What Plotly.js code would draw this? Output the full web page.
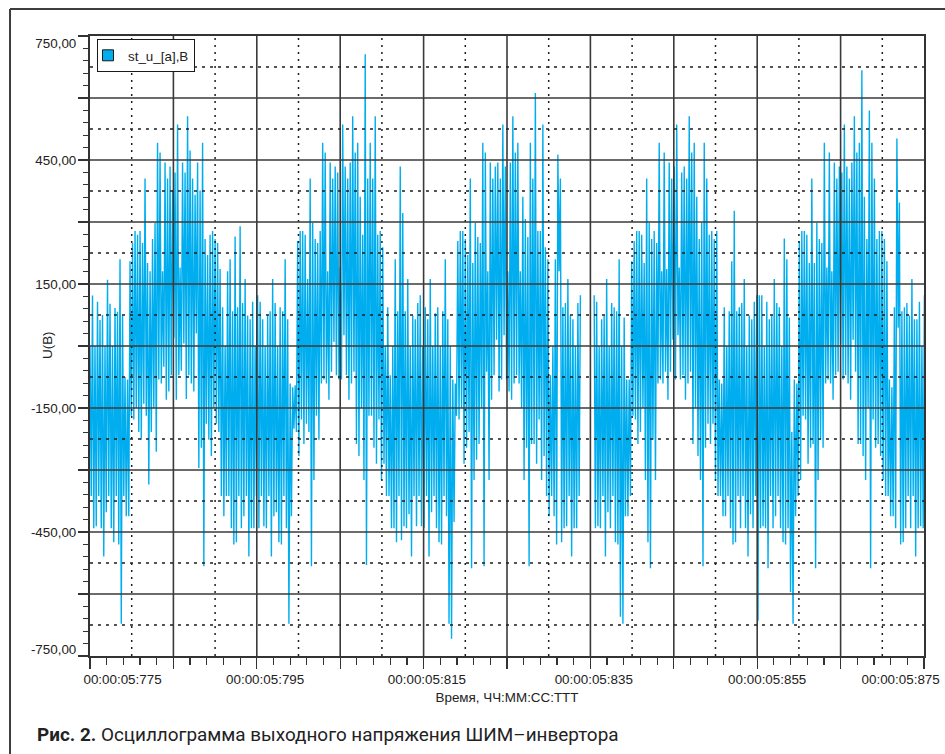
<!DOCTYPE html>
<html><head><meta charset="utf-8">
<script src="https://cdn.plot.ly/plotly-3.0.1.min.js"></script>
<style>html,body{margin:0;padding:0;background:#fff}#chart{width:945px;height:754px}</style>
</head><body><div id="chart"></div>
<script>
// time base (ms) and sample step
const t0 = 5775;
const dt = 0.15;
// PWM output voltage samples, per half-cycle
const segA = [0,-363,122,-441,0,-436,107,-363,63,-441,75,-509,0,-402,160,-363,102,-441,0,-475,92,-363,83,-480,210,-672,74,-363,-75,-412,-81,-412,205];
const segB = [-169,249,-178,278,-150,269,-208,278,-227,249,-140,405,-169,201,-335,181,-208,259,-150,298,-256,492,-81,468,-91,181,-50,444,-130,405,-110,434,-71,376,20,420,-130,536,-71,190,-60,444,6,420,-128,556,-71,473,-91,405,-110,366,30,444,-295,376,-246,492,-533,259,-188,220,-227,269,-266,278,-150,259,-188,249,-208,186];
const segC = [-363,94,-412,0,-363,181,-363,210,-441,84,-480,265,-475,94,-363,290,-441,104,-412,162,-363,74,-509,65,-441,107,-441,0,-363,123,-441,107,-363,65,-436,0,-441,74,-363,84,-509,162,-412,104,-402,0,-475,94,-480,84,-363,210,-441,65,-672,-91,-412,-100,-200,-95];
const segD = [-208,254,-266,278,-178,278,-237,269,-188,162,-208,405,-533,298,-324,259,-169,249,-227,278,-91,492,-81,468,-91,181,-130,444,-62,405,10,434,-71,420,-81,190,-81,536,26,434,-71,405,-130,444,-91,556,-62,468,-237,492,-266,361,-150,269,-324,706,-530,405,-169,492,-169,405,-246,556,-285,269,-178,278,-324,239,-285];
const segE = [0,-363,94,-363,-71,-441,0,-441,210,-475,84,-363,434,-470,322,-436,84,-441,162,-407,0,-509,74,-363,65,-436,104,-363,123,-436,0,-441,94,-363,65,-509,162,-402,0,-363,79,-441,94,-475,0,-480,84,-363,210,-412,65,-672,0,-708,-81,-426,-91];
const segF = [-169,254,-178,278,-150,278,-285,259,-246,220,-208,405,-538,201,-324,298,-275,264,-237,249,-150,492,-533,468,-62,181,-324,444,-130,405,-71,434,15,444,-110,405,-81,536,26,434,-81,181,-110,444,-130,556,-91,468,-71,492,-91,181,-150,361,-324,307,-246,264,-533,492,-237,405,-237,612,-285,278,-178,278,-324,536,-266,239,-363,210];
const segG = [-412,-71,-363,0,-412,210,-480,463,181,405,-475,94,-441,104,-436,162,-363,74,-509,65,-441,0,-441,104,-363,123];
const gapH = [null,null,null,null,null,null,null,null,null,null];
const segI = [123,-441,107,-436,0,-441,65,-363,74,-509,162,-402,0,-441,104,-363,94,-475,84,-480,210,-655,0,-672,69,-412,-81,-412,-81,-363];
const segJ = [205,-169,254,-178,278,-237,278,-208,269,-150,201,-324,405,-475,298,-538,259,-227,278,-324,249,-91,492,-81,181,-91,468,-62,186,-130,444,-62,405,15,434,-81,536,26,190,-81,420,-71,434,-130,405,-91,556,-62,468,-237,492,-150,361,-266,259,-324,298,-533,492,-246,405,-188,269,-237,278,-188,259,-324,278,-363];
const segK = [-81,-363,-91,-412,94,-412,0,-363,84,-441,205,-480,327,-475,84,-363,94,-441,104,-363,162,-441,0,-509,74,-407,65,-441,107,-363,123,-665,123,-441,123,-436,0,-441,107,-538,65,-363,74,-441,162,-412,104,-363,94,-441,0,-475,260,-480,210,-441,69,-596,-208,-672,-81,-412,-91,-363];
const segL = [254,-324,278,-169,278,-178,269,-285,201,-246,405,-237,201,-538,298,-324,259,-227,249,-246,492,-91,190,-81,468,-91,181,-130,444,-71,405,-62,434,6,420,-81,536,-71,434,-91,405,-130,444,15,556,-62,468,-237,492,-237,667,-266,361,-324,259,-150,570,-538,492,-178,405,-246,259,-237,278,-266,278,-324,259,-363];
const segM = [205,-363,-81,-412,-100,-412,94,-441,502,44,347,-480,84,-475,94,-441,104,-363,74,-441,162,-363,65,-509,65,-441,107,-436,0,-441,123];

// axis labels (the end labels sit slightly inside the frame, as in the original)
const xLabelPos = [5778.9, 5796.0, 5815.4, 5835.4, 5856.2, 5872.2];
const xLabelText = ['00:00:05:775','00:00:05:795','00:00:05:815','00:00:05:835','00:00:05:855','00:00:05:875'];
const yLabelVals = [-734, -450, -150, 150, 450, 733];
const yLabelText = ['-750,00','-450,00','-150,00','150,00','450,00','750,00'];
// grid lines
const gridXSolid = [5785,5795,5805,5815,5825,5835,5845,5855,5865];
const gridXDot = [5780,5790,5800,5810,5820,5830,5840,5850,5860,5870];
const gridYSolid = [-600,-450,-300,-150,0,150,300,450,600];
const gridYDot = [-675,-525,-375,-225,-75,75,225,375,525,675];

const u = [].concat(segA, segB, segC, segD, segE, segF, segG, gapH, segI, segJ, segK, segL, segM);

const BLUE = '#00AEEF';
const GRID = '#3a3a3a';
const DOT = '#1e1e1e';
const FONT = 'Liberation Sans, Arial, sans-serif';

const shapes = [];
gridXSolid.forEach(v => shapes.push({type:'line', layer:'above', xref:'x', yref:'paper', x0:v, x1:v, y0:0, y1:1, line:{color:GRID, width:1.6}}));
gridXDot.forEach(v => shapes.push({type:'line', layer:'above', xref:'x', yref:'paper', x0:v, x1:v, y0:0, y1:1, line:{color:DOT, width:1.5, dash:'2px,5px'}}));
gridYSolid.forEach(v => shapes.push({type:'line', layer:'above', xref:'paper', yref:'y', x0:0, x1:1, y0:v, y1:v, line:{color:GRID, width:1.6}}));
gridYDot.forEach(v => shapes.push({type:'line', layer:'above', xref:'paper', yref:'y', x0:0, x1:1, y0:v, y1:v, line:{color:DOT, width:1.5, dash:'3px,5px'}}));
// outer frame (top and left)
shapes.push({type:'line', layer:'above', xref:'paper', yref:'paper', x0:-0.0959, x1:1.03, y0:1.0435, y1:1.0435, line:{color:'#3d3d3d', width:2}});
shapes.push({type:'line', layer:'above', xref:'paper', yref:'paper', x0:-0.0959, x1:-0.0959, y0:1.0435, y1:-0.17, line:{color:'#3d3d3d', width:2}});

const traces = [
  {type:'scatter', mode:'lines', x0:t0, dx:dt, y:u, name:'st_u_[a],B', showlegend:false,
   line:{color:BLUE, width:1.4, simplify:false}, hoverinfo:'skip'},
  {type:'scatter', mode:'markers', x:[null], y:[null], name:'st_u_[a],B', showlegend:true,
   marker:{symbol:'square', size:11, color:BLUE, line:{color:'#1a1a1a', width:1}}, hoverinfo:'skip'},
  {type:'scatter', mode:'lines', x:[null], y:[null], xaxis:'x2', yaxis:'y2', showlegend:false, hoverinfo:'skip'}
];

const layout = {
  width:945, height:754,
  margin:{l:90, r:21, t:36, b:98, pad:0},
  paper_bgcolor:'#ffffff', plot_bgcolor:'#ffffff',
  font:{family:FONT, size:13.4, color:'#222'},
  showlegend:true,
  legend:{x:0.0084, y:0.995, xanchor:'left', yanchor:'top', bgcolor:'#ffffff', bordercolor:'#1a1a1a', borderwidth:1,
          font:{family:FONT, size:13.4, color:'#222'}, itemwidth:30, tracegroupgap:0, indentation:-10},
  xaxis:{range:[5775,5875], tickmode:'linear', tick0:5775, dtick:10, showticklabels:false, showgrid:false, zeroline:false,
         ticks:'outside', ticklen:11, tickwidth:1.3, tickcolor:'#333',
         showline:true, mirror:true, linecolor:'#333', linewidth:1.6,
         minor:{tick0:5775, dtick:2, ticks:'outside', ticklen:7, tickwidth:1.2, tickcolor:'#333', showgrid:false}},
  yaxis:{range:[-750,750], tickmode:'linear', tick0:-750, dtick:150, showticklabels:false, showgrid:false, zeroline:false,
         ticks:'outside', ticklen:10, tickwidth:1.3, tickcolor:'#333',
         showline:true, mirror:true, linecolor:'#333', linewidth:1.6,
         minor:{tick0:-750, dtick:30, ticks:'outside', ticklen:5, tickwidth:1.2, tickcolor:'#333', showgrid:false}},
  xaxis2:{overlaying:'x', anchor:'y', side:'bottom', range:[5775,5875], tickmode:'array', tickvals:xLabelPos, ticktext:xLabelText,
          ticks:'outside', ticklen:11, tickcolor:'rgba(0,0,0,0)', showgrid:false, zeroline:false, showline:false,
          tickfont:{family:FONT, size:13.4, color:'#222'},
          title:{text:'Время, ЧЧ:ММ:СС:ТТТ', font:{family:FONT, size:13.4, color:'#222'}, standoff:6}},
  yaxis2:{overlaying:'y', anchor:'x', side:'left', range:[-750,750], tickmode:'array', tickvals:yLabelVals, ticktext:yLabelText,
          ticks:'outside', ticklen:10, tickcolor:'rgba(0,0,0,0)', showgrid:false, zeroline:false, showline:false,
          tickfont:{family:FONT, size:13.4, color:'#222'}},
  shapes:shapes,
  annotations:[
    {text:'U(B)', xref:'paper', yref:'paper', x:-0.0516, y:0.5016, xanchor:'center', yanchor:'middle', textangle:-90,
     showarrow:false, font:{family:FONT, size:13.4, color:'#222'}},
    {text:'<b>Рис. 2.</b> Осциллограмма выходного напряжения ШИМ–инвертора', xref:'paper', yref:'paper',
     x:-0.066, y:-0.1274, xanchor:'left', yanchor:'middle', showarrow:false,
     font:{family:'Roboto, Noto Sans, sans-serif', size:18.9, color:'#222'}}
  ]
};

Plotly.newPlot('chart', traces, layout, {staticPlot:true, displayModeBar:false});
</script>
</body></html>
